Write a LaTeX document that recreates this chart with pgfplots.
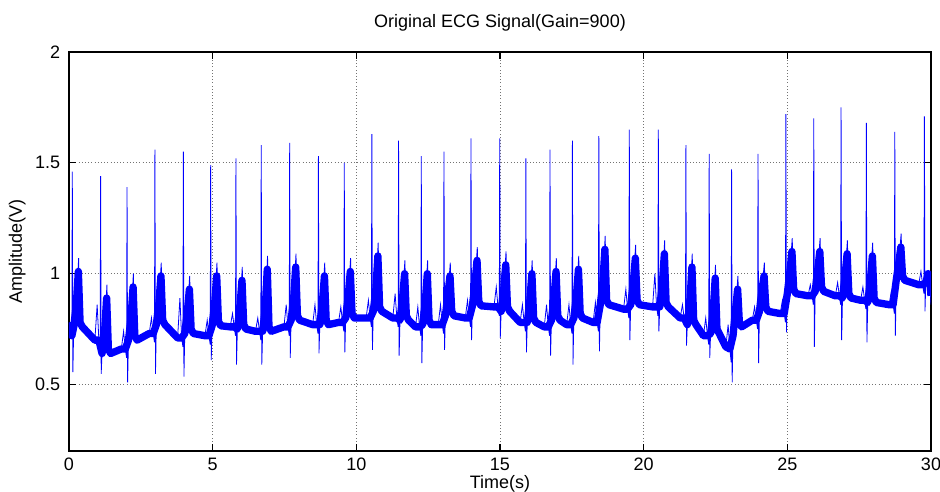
\documentclass[border=0pt]{standalone}
\usepackage{fontspec}
\setmainfont{Liberation Sans}
\usepackage{pgfplots}
\pgfplotsset{compat=1.18}
\definecolor{ecgBlue}{RGB}{0,0,255}

\begin{document}
\fontsize{13.5}{16}\selectfont
\begin{tikzpicture}
\path[use as bounding box] (-51.75pt,-30.75pt) rectangle (653.25pt,338.25pt);
\begin{axis}[
  at={(0,0)}, anchor=south west,
  scale only axis, width=646.5pt, height=299.25pt,
  xmin=0, xmax=30, ymin=0.2, ymax=2,
  xtick={0,5,...,30}, ytick={0.5,1,1.5,2},
  /pgf/number format/assume math mode=true,
  grid=major,
  grid style={dotted, black!55, line width=0.5pt},
  axis line style={line width=1pt, black},
  tick style={line width=1pt, black},
  major tick length=5pt,
  tick align=inside,
  xtick pos=both, ytick pos=both,
  xticklabel style={anchor=base, yshift=-15pt},
  yticklabel style={xshift=-2pt},
  title={Original ECG Signal(Gain=900)},
  title style={at={(axis description cs:0.5,1)}, anchor=base, yshift=12pt},
  xlabel={Time(s)},
  xlabel style={at={(axis description cs:0.5,-0.095)}, anchor=base},
  ylabel={Amplitude(V)},
  ylabel style={at={(axis description cs:-0.06,0.5)}, anchor=center},
]
% noisy baseline band (baseline and T ramps, no QRS spikes)
\addplot[ecgBlue, line width=5.5pt, line join=round, line cap=butt] coordinates {
  (0,0.78) (0.10,0.72) (0.165,0.76) (0.255,0.86) (0.325,1.01) (0.385,0.78) (0.465,0.76)
  (0.90,0.70) (1.04,0.70) (1.15,0.64) (1.24,0.74) (1.31,0.89) (1.37,0.66) (1.45,0.64)
  (1.82,0.66) (1.96,0.66) (2.07,0.70) (2.16,0.80) (2.23,0.94) (2.29,0.72) (2.37,0.70)
  (2.79,0.73) (2.93,0.73) (3.04,0.77) (3.13,0.87) (3.20,0.99) (3.26,0.79) (3.34,0.77)
  (3.78,0.71) (3.92,0.71) (4.03,0.73) (4.12,0.83) (4.19,0.93) (4.25,0.75) (4.33,0.73)
  (4.73,0.72) (4.87,0.72) (4.98,0.765) (5.07,0.865) (5.14,0.99) (5.20,0.785) (5.28,0.765)
  (5.61,0.76) (5.75,0.76) (5.86,0.75) (5.95,0.85) (6.02,0.97) (6.08,0.77) (6.16,0.75)
  (6.49,0.74) (6.63,0.74) (6.74,0.74) (6.83,0.84) (6.90,1.02) (6.96,0.76) (7.04,0.74)
  (7.48,0.76) (7.62,0.76) (7.73,0.79) (7.82,0.89) (7.89,1.03) (7.95,0.81) (8.03,0.79)
  (8.48,0.77) (8.62,0.77) (8.73,0.77) (8.82,0.87) (8.89,0.99) (8.95,0.79) (9.03,0.77)
  (9.38,0.78) (9.52,0.78) (9.63,0.80) (9.72,0.90) (9.79,1.01) (9.85,0.82) (9.93,0.80)
  (10.34,0.80) (10.48,0.80) (10.59,0.83) (10.68,0.93) (10.75,1.08) (10.81,0.85) (10.89,0.83)
  (11.27,0.80) (11.41,0.80) (11.52,0.79) (11.61,0.89) (11.68,1.00) (11.74,0.81) (11.82,0.79)
  (12.06,0.76) (12.20,0.76) (12.31,0.77) (12.40,0.87) (12.47,1.00) (12.53,0.79) (12.61,0.77)
  (12.85,0.77) (12.99,0.77) (13.10,0.81) (13.19,0.91) (13.26,0.99) (13.32,0.83) (13.40,0.81)
  (13.79,0.80) (13.93,0.80) (14.04,0.855) (14.13,0.955) (14.20,1.06) (14.26,0.875) (14.34,0.855)
  (14.79,0.85) (14.93,0.85) (15.04,0.83) (15.13,0.93) (15.20,1.04) (15.26,0.85) (15.34,0.83)
  (15.70,0.78) (15.84,0.78) (15.95,0.78) (16.04,0.88) (16.11,1.00) (16.17,0.80) (16.25,0.78)
  (16.54,0.76) (16.68,0.76) (16.79,0.79) (16.88,0.89) (16.95,1.01) (17.01,0.81) (17.09,0.79)
  (17.32,0.77) (17.46,0.77) (17.57,0.80) (17.66,0.90) (17.73,1.02) (17.79,0.82) (17.87,0.80)
  (18.24,0.78) (18.38,0.78) (18.49,0.86) (18.58,0.96) (18.65,1.11) (18.71,0.88) (18.79,0.86)
  (19.30,0.84) (19.44,0.84) (19.55,0.86) (19.64,0.96) (19.71,1.07) (19.77,0.88) (19.85,0.86)
  (20.31,0.85) (20.45,0.85) (20.56,0.85) (20.65,0.95) (20.72,1.09) (20.78,0.87) (20.86,0.85)
  (21.27,0.80) (21.41,0.80) (21.52,0.77) (21.61,0.87) (21.68,1.03) (21.74,0.79) (21.82,0.77)
  (22.08,0.72) (22.22,0.72) (22.33,0.73) (22.42,0.83) (22.49,0.98) (22.55,0.75) (22.63,0.73)
  (22.86,0.67) (23.00,0.66) (23.11,0.72) (23.20,0.84) (23.27,0.93) (23.33,0.78) (23.41,0.76)
  (23.78,0.79) (23.92,0.79) (24.03,0.83) (24.12,0.93) (24.19,0.99) (24.25,0.85) (24.33,0.83)
  (24.75,0.82) (24.89,0.82) (25.00,0.91) (25.09,1.01) (25.16,1.10) (25.22,0.93) (25.30,0.91)
  (25.72,0.90) (25.86,0.90) (25.97,0.92) (26.06,1.02) (26.13,1.10) (26.19,0.94) (26.27,0.92)
  (26.67,0.90) (26.81,0.90) (26.92,0.89) (27.01,0.99) (27.08,1.09) (27.14,0.91) (27.22,0.89)
  (27.55,0.88) (27.69,0.88) (27.80,0.87) (27.89,0.97) (27.96,1.08) (28.02,0.89) (28.10,0.87)
  (28.54,0.86) (28.68,0.86) (28.79,0.97) (28.88,1.05) (28.95,1.12) (29.01,0.99) (29.09,0.97)
  (29.57,0.95) (29.71,0.95) (29.82,0.96) (29.90,1.00) (29.96,0.97) (30.00,0.90)
};
% ECG trace
\addplot[ecgBlue, line width=0.6pt] coordinates {
  (0,0.78) (0.06,0.74) (0.10,0.72) (0.115,1.46) (0.135,0.556) (0.165,0.76) (0.255,0.86) (0.335,1.07) (0.385,0.78) (0.465,0.76)
  (0.90,0.70) (0.98,0.86) (1.04,0.70) (1.085,0.66) (1.10,1.44) (1.12,0.548) (1.15,0.64) (1.24,0.74) (1.32,0.95) (1.37,0.66) (1.45,0.64)
  (1.82,0.66) (1.90,0.74) (1.96,0.66) (2.005,0.62) (2.02,1.39) (2.04,0.51) (2.07,0.70) (2.16,0.80) (2.24,1.00) (2.29,0.72) (2.37,0.70)
  (2.79,0.73) (2.87,0.80) (2.93,0.73) (2.975,0.69) (2.99,1.56) (3.01,0.548) (3.04,0.77) (3.13,0.87) (3.21,1.05) (3.26,0.79) (3.34,0.77)
  (3.78,0.71) (3.86,0.89) (3.92,0.71) (3.965,0.67) (3.98,1.55) (4.00,0.536) (4.03,0.73) (4.12,0.83) (4.20,0.99) (4.25,0.75) (4.33,0.73)
  (4.73,0.72) (4.81,0.79) (4.87,0.72) (4.915,0.68) (4.93,1.49) (4.95,0.61) (4.98,0.765) (5.07,0.865) (5.15,1.05) (5.20,0.785) (5.28,0.765)
  (5.61,0.76) (5.69,0.82) (5.75,0.76) (5.795,0.72) (5.81,1.52) (5.83,0.59) (5.86,0.75) (5.95,0.85) (6.03,1.03) (6.08,0.77) (6.16,0.75)
  (6.49,0.74) (6.57,0.80) (6.63,0.74) (6.675,0.70) (6.69,1.58) (6.71,0.59) (6.74,0.74) (6.83,0.84) (6.91,1.08) (6.96,0.76) (7.04,0.74)
  (7.48,0.76) (7.56,0.86) (7.62,0.76) (7.665,0.72) (7.68,1.59) (7.70,0.62) (7.73,0.79) (7.82,0.89) (7.90,1.09) (7.95,0.81) (8.03,0.79)
  (8.48,0.77) (8.56,0.86) (8.62,0.77) (8.665,0.73) (8.68,1.53) (8.70,0.64) (8.73,0.77) (8.82,0.87) (8.90,1.05) (8.95,0.79) (9.03,0.77)
  (9.38,0.78) (9.46,0.85) (9.52,0.78) (9.565,0.74) (9.58,1.50) (9.60,0.645) (9.63,0.80) (9.72,0.90) (9.80,1.07) (9.85,0.82) (9.93,0.80)
  (10.34,0.80) (10.42,0.88) (10.48,0.80) (10.525,0.76) (10.54,1.63) (10.56,0.656) (10.59,0.83) (10.68,0.93) (10.76,1.14) (10.81,0.85) (10.89,0.83)
  (11.27,0.80) (11.35,0.91) (11.41,0.80) (11.455,0.76) (11.47,1.60) (11.49,0.63) (11.52,0.79) (11.61,0.89) (11.69,1.06) (11.74,0.81) (11.82,0.79)
  (12.06,0.76) (12.14,0.85) (12.20,0.76) (12.245,0.72) (12.26,1.53) (12.28,0.596) (12.31,0.77) (12.40,0.87) (12.48,1.06) (12.53,0.79) (12.61,0.77)
  (12.85,0.77) (12.93,0.86) (12.99,0.77) (13.035,0.73) (13.05,1.55) (13.07,0.656) (13.10,0.81) (13.19,0.91) (13.27,1.05) (13.32,0.83) (13.40,0.81)
  (13.79,0.80) (13.87,0.88) (13.93,0.80) (13.975,0.76) (13.99,1.61) (14.01,0.70) (14.04,0.855) (14.13,0.955) (14.21,1.12) (14.26,0.875) (14.34,0.855)
  (14.79,0.85) (14.87,0.94) (14.93,0.85) (14.975,0.81) (14.99,1.61) (15.01,0.71) (15.04,0.83) (15.13,0.93) (15.21,1.10) (15.26,0.85) (15.34,0.83)
  (15.70,0.78) (15.78,0.86) (15.84,0.78) (15.885,0.74) (15.90,1.52) (15.92,0.645) (15.95,0.78) (16.04,0.88) (16.12,1.06) (16.17,0.80) (16.25,0.78)
  (16.54,0.76) (16.62,0.86) (16.68,0.76) (16.725,0.72) (16.74,1.56) (16.76,0.63) (16.79,0.79) (16.88,0.89) (16.96,1.07) (17.01,0.81) (17.09,0.79)
  (17.32,0.77) (17.40,0.86) (17.46,0.77) (17.505,0.73) (17.52,1.60) (17.54,0.59) (17.57,0.80) (17.66,0.90) (17.74,1.08) (17.79,0.82) (17.87,0.80)
  (18.24,0.78) (18.32,0.87) (18.38,0.78) (18.425,0.74) (18.44,1.62) (18.46,0.65) (18.49,0.86) (18.58,0.96) (18.66,1.17) (18.71,0.88) (18.79,0.86)
  (19.30,0.84) (19.38,0.93) (19.44,0.84) (19.485,0.80) (19.50,1.65) (19.52,0.70) (19.55,0.86) (19.64,0.96) (19.72,1.13) (19.77,0.88) (19.85,0.86)
  (20.31,0.85) (20.39,1.00) (20.45,0.85) (20.495,0.81) (20.51,1.65) (20.53,0.74) (20.56,0.85) (20.65,0.95) (20.73,1.15) (20.78,0.87) (20.86,0.85)
  (21.27,0.80) (21.35,0.86) (21.41,0.80) (21.455,0.76) (21.47,1.58) (21.49,0.675) (21.52,0.77) (21.61,0.87) (21.69,1.09) (21.74,0.79) (21.82,0.77)
  (22.08,0.72) (22.16,0.80) (22.22,0.72) (22.265,0.68) (22.28,1.54) (22.30,0.62) (22.33,0.73) (22.42,0.83) (22.50,1.04) (22.55,0.75) (22.63,0.73)
  (22.86,0.67) (22.94,0.77) (23.00,0.66) (23.045,0.60) (23.06,1.47) (23.08,0.51) (23.11,0.72) (23.20,0.84) (23.28,0.99) (23.33,0.78) (23.41,0.76)
  (23.78,0.79) (23.86,0.85) (23.92,0.79) (23.965,0.75) (23.98,1.54) (24.00,0.596) (24.03,0.83) (24.12,0.93) (24.20,1.05) (24.25,0.85) (24.33,0.83)
  (24.75,0.82) (24.83,0.88) (24.89,0.82) (24.935,0.78) (24.95,1.72) (24.97,0.735) (25.00,0.91) (25.09,1.01) (25.17,1.16) (25.22,0.93) (25.30,0.91)
  (25.72,0.90) (25.80,0.95) (25.86,0.90) (25.905,0.86) (25.92,1.70) (25.94,0.67) (25.97,0.92) (26.06,1.02) (26.14,1.16) (26.19,0.94) (26.27,0.92)
  (26.67,0.90) (26.75,0.96) (26.81,0.90) (26.855,0.86) (26.87,1.75) (26.89,0.70) (26.92,0.89) (27.01,0.99) (27.09,1.15) (27.14,0.91) (27.22,0.89)
  (27.55,0.88) (27.63,0.94) (27.69,0.88) (27.735,0.84) (27.75,1.68) (27.77,0.69) (27.80,0.87) (27.89,0.97) (27.97,1.14) (28.02,0.89) (28.10,0.87)
  (28.54,0.86) (28.62,0.92) (28.68,0.86) (28.725,0.82) (28.74,1.64) (28.76,0.72) (28.79,0.97) (28.88,1.05) (28.96,1.18) (29.01,0.99) (29.09,0.97)
  (29.57,0.95) (29.65,1.01) (29.71,0.95) (29.755,0.91) (29.77,1.71) (29.79,0.83) (29.82,0.96) (29.90,1.00) (29.96,0.97) (30.00,0.86)
};
\end{axis}
\end{tikzpicture}
\end{document}
